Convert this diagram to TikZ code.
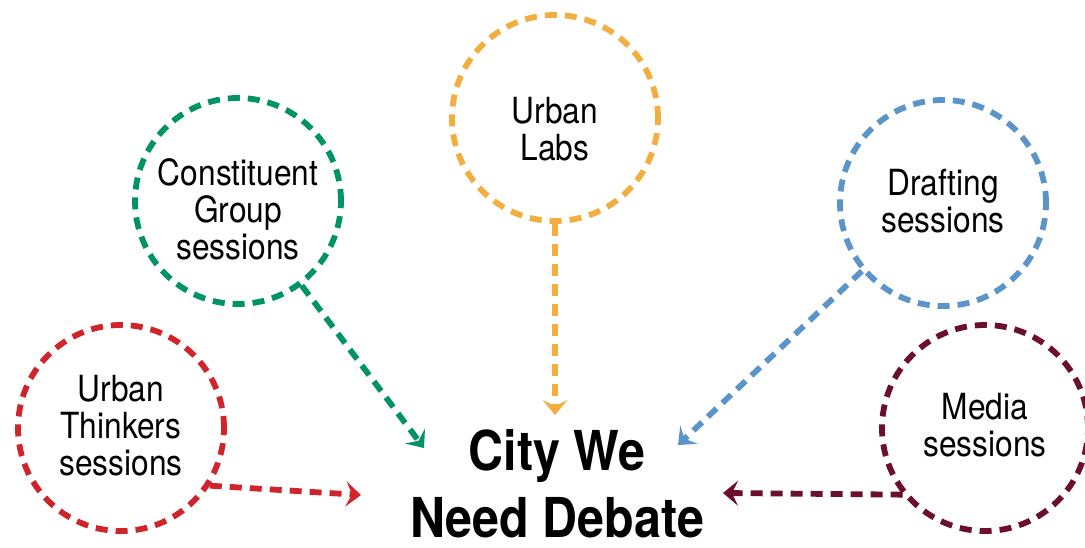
\documentclass[tikz,border=0pt]{standalone}
\usepackage{fontspec}
\setmainfont{TeX Gyre Heros}[FakeStretch=0.88]
\usetikzlibrary{arrows.meta}
\definecolor{cgreen}{HTML}{009366}
\definecolor{corange}{HTML}{F4AE40}
\definecolor{cblue}{HTML}{5B94C9}
\definecolor{cred}{HTML}{D1232A}
\definecolor{cmaroon}{HTML}{6B0E2F}
\tikzset{
  bubble/.style={circle, draw, line width=5.8pt, dash pattern=on 12pt off 8pt,
    minimum size=206pt, inner sep=0pt},
  lbl/.style={align=center, inner sep=0pt, font=\fontsize{36}{37}\selectfont},
  link/.style={line width=5.8pt, dash pattern=on 12pt off 8pt,
    -{Stealth[length=15pt,width=25pt,inset=6pt]}},
  title/.style={align=center, font=\fontsize{55}{67}\selectfont\bfseries}
}
\begin{document}
\begin{tikzpicture}[x=1pt,y=-1pt]
\useasboundingbox (0,0) rectangle (1085,548);
\node[bubble, cgreen] (cg) at (238,201) {};
\node[lbl] (cgt) at (238,209) {Constituent\\Group\\sessions};
\node[bubble, corange] (ul) at (555,118) {};
\node[lbl] (ult) at (555,129) {Urban\\Labs};
\node[bubble, cblue] (ds) at (943,203) {};
\node[lbl] (dst) at (943,201) {Drafting\\sessions};
\node[bubble, cred] (ut) at (121,428) {};
\node[lbl] (utt) at (121,426) {Urban\\Thinkers\\sessions};
\node[bubble, cmaroon] (ms) at (985,428) {};
\node[lbl] (mst) at (985,425) {Media\\sessions};
\node[title] (t) at (557,484) {City We\\Need Debate};
\coordinate (eg) at (424,448);
\coordinate (eo) at (555,415);
\coordinate (eb) at (678,445);
\coordinate (er) at (361,495);
\coordinate (em) at (723,493);
\draw[link, cgreen] (cg.-53.6) -- (eg);
\draw[link, corange] (ul.south) -- (eo);
\draw[link, cblue] (ds.-140) -- (eb);
\draw[link, cred] (ut.-33) -- (er);
\draw[link, cmaroon] (ms.-141) -- (em);
\end{tikzpicture}
\end{document}
